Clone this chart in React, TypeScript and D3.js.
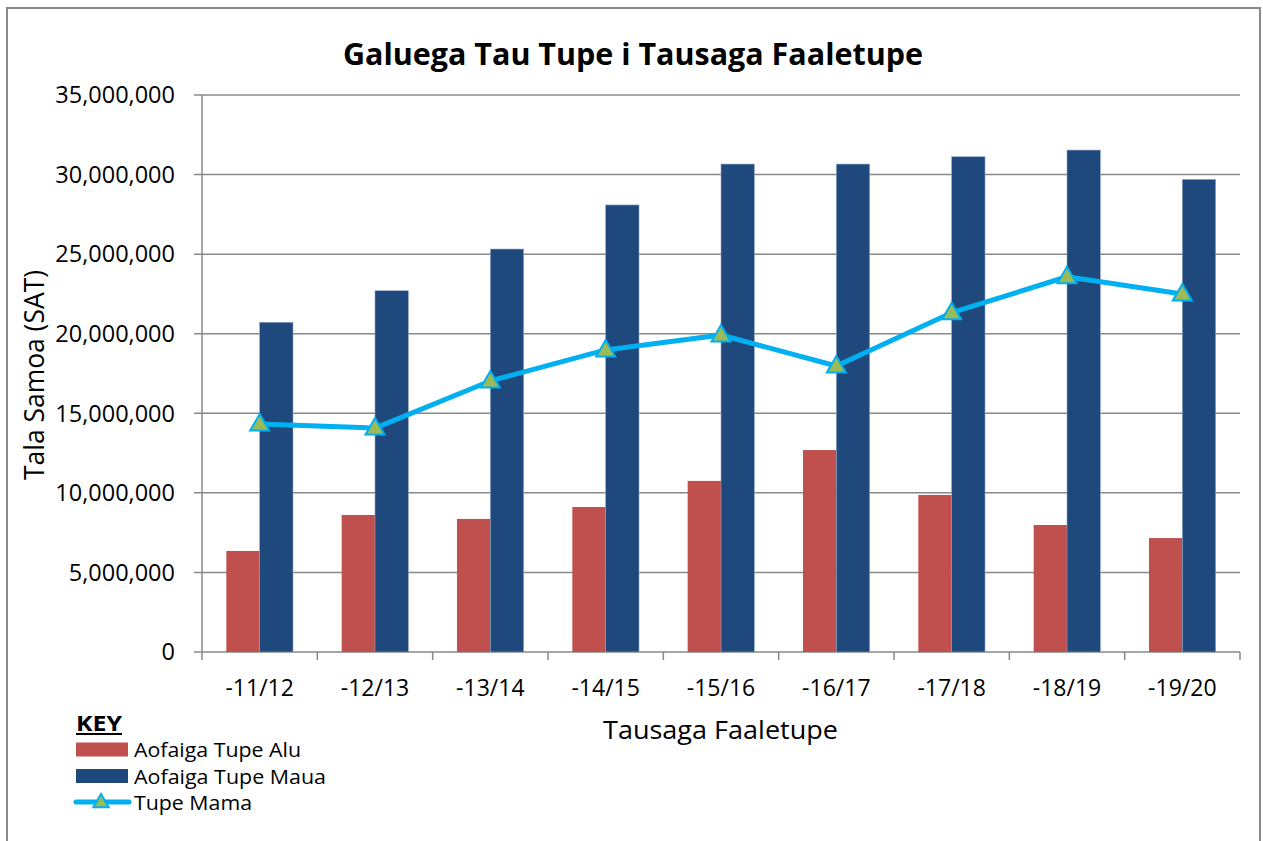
import React from "react";
import * as d3 from "d3";

const categories = ["-11/12", "-12/13", "-13/14", "-14/15", "-15/16", "-16/17", "-17/18", "-18/19", "-19/20"];
const tupeAlu = [6350000, 8610000, 8360000, 9110000, 10750000, 12690000, 9870000, 7980000, 7160000];
const tupeMaua = [20720000, 22700000, 25320000, 28090000, 30660000, 30660000, 31120000, 31540000, 29700000];
const tupeMama = [14320000, 14070000, 17030000, 18980000, 19920000, 17970000, 21320000, 23580000, 22500000];
const yTicks = [0, 5000000, 10000000, 15000000, 20000000, 25000000, 30000000, 35000000];

const W = 1263, H = 841;
const L = 202, R = 1240, T = 95, B = 652;
const RED = "#C0504D", BLUE = "#1F497D", CYAN = "#00B0F0", GREEN = "#9BBB59", GRID = "#888888";
const FONT = "'Open Sans', 'DejaVu Sans', sans-serif";

export default function App() {
  const x = d3.scaleBand<string>().domain(categories).range([L, R]);
  const y = d3.scaleLinear().domain([0, 35000000]).range([B, T]);
  const bw = x.bandwidth() * 0.289;
  const fmt = d3.format(",");
  const line = d3.line<number>()
    .x((_, i) => (x(categories[i]) as number) + x.bandwidth() / 2)
    .y((d) => y(d));
  const tri = (cx: number, cy: number, s: number) =>
    `M${cx},${cy - s}L${cx + s * 0.95},${cy + s * 0.65}L${cx - s * 0.95},${cy + s * 0.65}Z`;

  return (
    <svg width={W} height={H} style={{ position: "absolute", left: 0, top: 0, background: "#fff" }} fontFamily={FONT}>
      <rect x={7} y={8} width={1253} height={850} fill="#fff" stroke={GRID} strokeWidth={2} />
      <text x={633} y={65} textAnchor="middle" fontSize={29.5} fontWeight="bold" fill="#000" textLength={580} lengthAdjust="spacingAndGlyphs">
        Galuega Tau Tupe i Tausaga Faaletupe
      </text>
      {yTicks.map((t) => (
        <g key={t}>
          <line x1={L - 8} x2={R} y1={y(t)} y2={y(t)} stroke={GRID} strokeWidth={1.5} />
          <text x={175} y={y(t) + 8.3} textAnchor="end" fontSize={23.5} fill="#000">{fmt(t)}</text>
        </g>
      ))}
      <line x1={L} x2={L} y1={T} y2={B} stroke={GRID} strokeWidth={1.5} />
      {categories.map((c) => (
        <g key={c}>
          <line x1={(x(c) as number)} x2={(x(c) as number)} y1={B} y2={B + 8} stroke={GRID} strokeWidth={1.5} />
          <text x={(x(c) as number) + x.bandwidth() / 2} y={696} textAnchor="middle" fontSize={23} fill="#000">{c}</text>
        </g>
      ))}
      <line x1={R} x2={R} y1={B} y2={B + 8} stroke={GRID} strokeWidth={1.5} />
      {categories.map((c, i) => {
        const cx = (x(c) as number) + x.bandwidth() / 2;
        return (
          <g key={"b" + c}>
            <rect x={cx - bw} y={y(tupeAlu[i])} width={bw} height={B - y(tupeAlu[i])} fill={RED} />
            <rect x={cx} y={y(tupeMaua[i])} width={bw} height={B - y(tupeMaua[i])} fill={BLUE} stroke="#8EA4C4" strokeWidth={0.6} />
          </g>
        );
      })}
      <path d={line(tupeMama) || ""} fill="none" stroke={CYAN} strokeWidth={5} strokeLinejoin="round" />
      {tupeMama.map((v, i) => {
        const cx = (x(categories[i]) as number) + x.bandwidth() / 2;
        return <path key={"m" + i} d={tri(cx, y(v), 10)} fill={GREEN} stroke={CYAN} strokeWidth={2} />;
      })}
      <text transform={`translate(44,375) rotate(-90)`} textAnchor="middle" fontSize={28} fill="#000" textLength={210} lengthAdjust="spacingAndGlyphs">Tala Samoa (SAT)</text>
      <text x={720.5} y={739} textAnchor="middle" fontSize={26} fill="#000" textLength={235} lengthAdjust="spacingAndGlyphs">Tausaga Faaletupe</text>
      <text x={76} y={731} fontSize={22} fontWeight="bold" fill="#000" textLength={46} lengthAdjust="spacingAndGlyphs">KEY</text>
      <line x1={76} x2={122} y1={734} y2={734} stroke="#000" strokeWidth={2} />
      <rect x={76} y={742.5} width={52} height={14} fill={RED} />
      <text x={134} y={757} fontSize={20} fill="#000" textLength={167} lengthAdjust="spacingAndGlyphs">Aofaiga Tupe Alu</text>
      <rect x={76} y={769} width={52} height={14} fill={BLUE} />
      <text x={134} y={783.5} fontSize={20} fill="#000" textLength={192} lengthAdjust="spacingAndGlyphs">Aofaiga Tupe Maua</text>
      <line x1={76} x2={129} y1={802} y2={802} stroke={CYAN} strokeWidth={5} strokeLinecap="round" />
      <path d={tri(101, 802, 8)} fill={GREEN} stroke={CYAN} strokeWidth={2} />
      <text x={134} y={810} fontSize={20} fill="#000" textLength={118} lengthAdjust="spacingAndGlyphs">Tupe Mama</text>
    </svg>
  );
}
